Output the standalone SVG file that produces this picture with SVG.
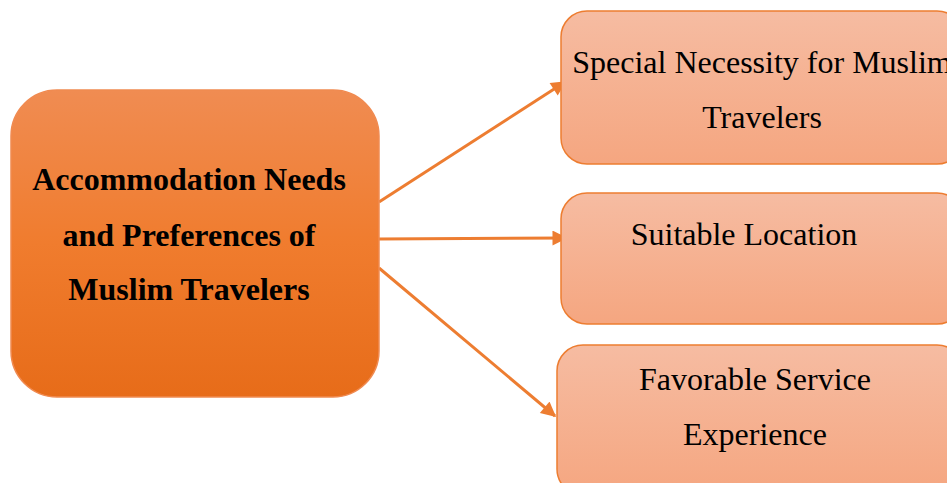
<svg xmlns="http://www.w3.org/2000/svg" width="947" height="483" viewBox="0 0 947 483">
<defs>
<linearGradient id="gMain" x1="0" y1="0" x2="0" y2="1">
<stop offset="0" stop-color="#F08C52"/>
<stop offset="0.5" stop-color="#F07C2E"/>
<stop offset="1" stop-color="#E76C19"/>
</linearGradient>
<linearGradient id="gSub" x1="0" y1="0" x2="0" y2="1">
<stop offset="0" stop-color="#F6BCA2"/>
<stop offset="1" stop-color="#F5A680"/>
</linearGradient>
<marker id="ah" viewBox="0 0 10 10" refX="9" refY="5" markerWidth="5.5" markerHeight="5" markerUnits="strokeWidth" orient="auto">
<path d="M0,0 L10,5 L0,10 Z" fill="#ED7D31"/>
</marker>
<style>
.main{fill:url(#gMain);stroke:#F08A50;stroke-width:1.5}
.sub{fill:url(#gSub);stroke:#ED7D31;stroke-width:1.5}
.mt{font-family:"Liberation Serif",serif;font-weight:bold;font-size:32px;fill:#000;text-anchor:middle}
.st{font-family:"Liberation Serif",serif;font-size:32px;fill:#000;text-anchor:middle}
.conn{stroke:#ED7D31;stroke-width:3;fill:none;marker-end:url(#ah)}
</style>
</defs>
<g id="connectors">
<line class="conn" x1="379" y1="202" x2="565" y2="82"/>
<line class="conn" x1="379" y1="239" x2="566" y2="238"/>
<line class="conn" x1="379" y1="268" x2="555" y2="416"/>
</g>
<g id="main">
<rect class="main" x="11" y="90" width="368" height="307" rx="46" ry="46"/>
<text class="mt" x="189" y="190">Accommodation Needs</text>
<text class="mt" x="189" y="246">and Preferences of</text>
<text class="mt" x="189" y="300">Muslim Travelers</text>
</g>
<g id="n1">
<rect class="sub" x="561" y="11" width="402" height="153" rx="26" ry="26"/>
<text class="st" x="762" y="73">Special Necessity for Muslim</text>
<text class="st" x="762" y="128">Travelers</text>
</g>
<g id="n2">
<rect class="sub" x="561" y="193" width="402" height="131" rx="26" ry="26"/>
<text class="st" x="744" y="245">Suitable Location</text>
</g>
<g id="n3">
<rect class="sub" x="557" y="345" width="406" height="150" rx="26" ry="26"/>
<text class="st" x="755" y="390">Favorable Service</text>
<text class="st" x="755" y="445">Experience</text>
</g>
</svg>
